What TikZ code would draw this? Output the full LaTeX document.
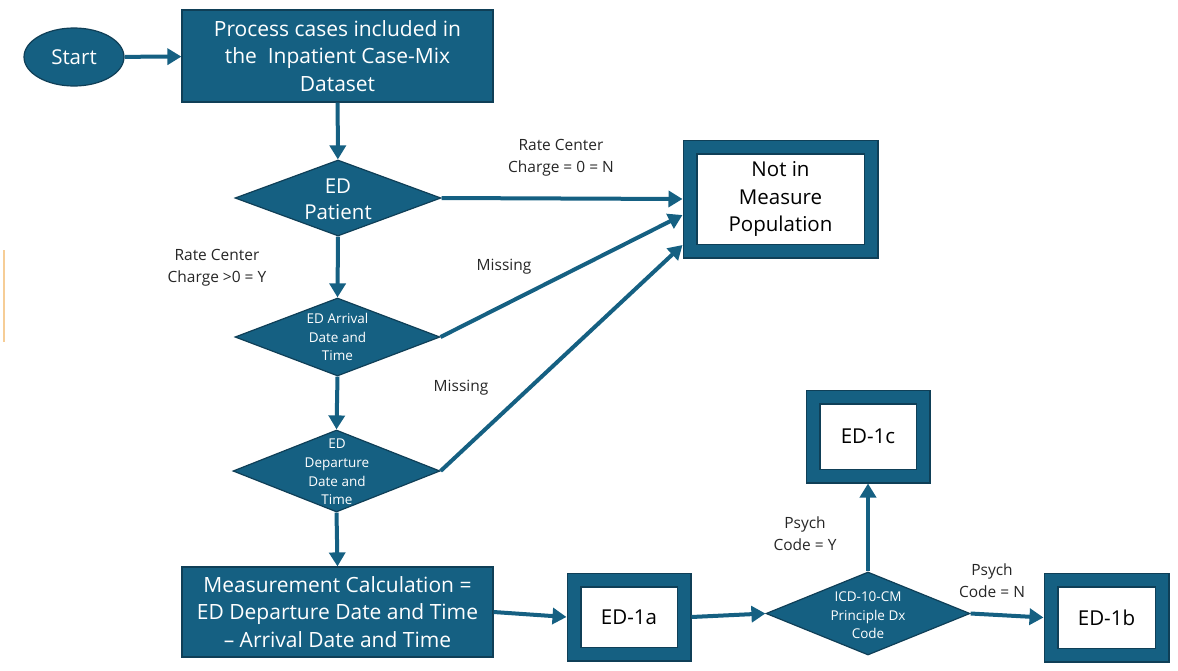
\documentclass[tikz,border=0pt]{standalone}
\usepackage{fontspec}
\setmainfont{Open Sans}
\usetikzlibrary{shapes.geometric, arrows.meta}

\definecolor{edblue}{HTML}{156082}
\definecolor{edline}{HTML}{0F3F57}
\definecolor{notegray}{HTML}{262626}
\definecolor{marker}{HTML}{F6CD96}

\begin{document}
\begin{tikzpicture}[x = 1pt, y = -1pt, > = {Triangle[length = 14pt, width = 16pt]},
	flow/.style = {->, draw = edblue, line width = 4pt},
	start/.style = {ellipse, fill = edblue, draw = edline, line width = 1.2pt, text = white,
		minimum width = 100pt, minimum height = 58pt, inner sep = 0pt, font = \fontsize{20.5}{27}\selectfont},
	process/.style = {rectangle, fill = edblue, draw = edline, line width = 1.2pt, text = white,
		align = center, inner sep = 0pt, minimum width = 311pt, font = \fontsize{21}{27.5}\selectfont},
	decision/.style = {diamond, fill = edblue, draw = edline, line width = 1.2pt, inner sep = 0pt},
	dtext/.style = {text = white, align = center, inner sep = 0pt, font = \fontsize{13.5}{18.6}\selectfont},
	outcome/.style = {rectangle, fill = white, draw = edline, line width = 15pt,
		postaction = {draw = edblue, line width = 12.6pt}, align = center, inner sep = 0pt,
		font = \fontsize{20.5}{27.5}\selectfont},
	note/.style = {text = notegray, align = center, inner sep = 0pt, font = \fontsize{15.5}{22}\selectfont}]

	\useasboundingbox (0, 0) rectangle (1178, 670);

	% Left edge marker

	\draw [marker, line width = 2pt] (4, 250) -- (4, 342);

	% Top row

	\node [start] (start) at (74, 57) {Start};
	\node [process, minimum height = 92pt] (cases) at (337.5, 56) {Process cases included in\\the\ \ Inpatient Case-Mix\\Dataset};

	% Decisions

	\node [decision, minimum width = 206pt, minimum height = 76pt] (edpat) at (338, 198) {};
	\node [dtext, font = \fontsize{20.5}{26}\selectfont] (edpat-t) at (338, 199) {ED\\Patient};

	\node [decision, minimum width = 205pt, minimum height = 78pt] (arrival) at (337.5, 337) {};
	\node [dtext] (arrival-t) at (337.5, 337) {ED Arrival\\Date and\\Time};

	\node [decision, minimum width = 207pt, minimum height = 82pt] (depart) at (336.5, 471) {};
	\node [dtext] (depart-t) at (337, 472) {ED\\Departure\\Date and\\Time};

	\node [decision, minimum width = 204pt, minimum height = 83pt] (icd) at (868, 613.5) {};
	\node [dtext] (icd-t) at (868, 615.5) {ICD-10-CM\\Principle Dx\\Code};

	% Results

	\node [outcome, minimum width = 181pt, minimum height = 104pt] (notin) at (780.5, 199) {Not in\\Measure\\Population};
	\node [process, minimum height = 90pt] (calc) at (337.5, 612) {Measurement Calculation =\\ED Departure Date and Time\\-- Arrival Date and Time};
	\node [outcome, minimum width = 110pt, minimum height = 74pt] (ed1a) at (629, 617) {ED-1a};
	\node [outcome, minimum width = 110pt, minimum height = 79pt] (ed1c) at (868, 436.5) {ED-1c};
	\node [outcome, minimum width = 111pt, minimum height = 75pt] (ed1b) at (1106.5, 617.5) {ED-1b};

	% Connectors

	\begin{scope}[flow]

		\draw (start) -- (cases);
		\draw (cases) -- (edpat);
		\draw (edpat.east) -- (notin.west);
		\draw (edpat.south) -- (arrival.north);
		\draw (arrival.east) -- ([yshift = -16pt] notin.west);
		\draw (arrival.south) -- (depart.north);
		\draw (depart.east) -- ([yshift = -46pt] notin.west);
		\draw (depart.south) -- (calc.north);
		\draw (calc.east) -- (ed1a.west);
		\draw (ed1a.east) -- (icd.west);
		\draw (icd.north) -- (ed1c.south);
		\draw (icd.east) -- (ed1b.west);

	\end{scope}

	% Labels

	\node [note] (zero) at (561, 158) {Rate Center\\Charge = 0 = N};
	\node [note] (above) at (217, 268) {Rate Center\\Charge >0 = Y};
	\node [note] (miss1) at (504, 267) {Missing};
	\node [note] (miss2) at (461, 388) {Missing};
	\node [note] (psychy) at (805, 534) {Psych\\Code = Y};
	\node [note] (psychn) at (992, 581) {Psych\\Code = N};

\end{tikzpicture}
\end{document}
